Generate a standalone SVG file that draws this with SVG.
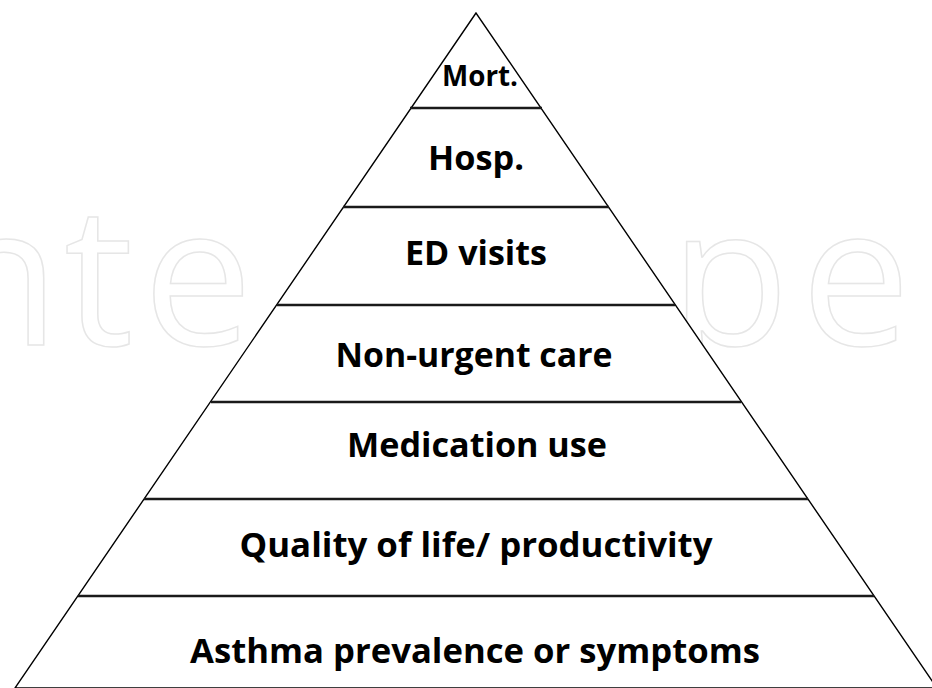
<svg xmlns="http://www.w3.org/2000/svg" width="932" height="688" viewBox="0 0 932 688">
  <style>
    .mark { font-family: "Open Sans", "DejaVu Sans", sans-serif; font-weight: 500; font-size: 195px; fill: none; stroke: #e6e6e6; stroke-width: 1.5; }
    .edge { fill: #ffffff; stroke: #000000; stroke-width: 1.4; stroke-linejoin: miter; }
    .tier { stroke: #1a1a1a; stroke-width: 2.6; }
    .label { font-family: "Open Sans", "Noto Sans", "DejaVu Sans", sans-serif; font-weight: 700; font-size: 34px; fill: #000000; text-anchor: middle; }
    .small { font-size: 28px; }
  </style>
  <rect x="0" y="0" width="932" height="688" fill="#ffffff"/>

  <!-- faint outlined background lettering, visible on both sides of the pyramid -->
  <g id="backdrop-letters">
    <text class="mark" x="-60" y="345">n</text>
    <text class="mark" x="64" y="345">t</text>
    <text class="mark" x="143" y="345">e</text>
    <text class="mark" x="670" y="345">p</text>
    <text class="mark" x="801" y="345">e</text>
  </g>

  <!-- pyramid outline -->
  <polygon id="pyramid" class="edge" points="476,13 15,688 937,688"/>

  <!-- tier dividers -->
  <g id="dividers">
    <line class="tier" x1="410" y1="108" x2="542" y2="108"/>
    <line class="tier" x1="343" y1="207" x2="609" y2="207"/>
    <line class="tier" x1="277" y1="305" x2="675" y2="305"/>
    <line class="tier" x1="211" y1="402" x2="741" y2="402"/>
    <line class="tier" x1="144" y1="499" x2="808" y2="499"/>
    <line class="tier" x1="78" y1="596" x2="874" y2="596"/>
  </g>

  <!-- tier labels -->
  <g id="tier-mort"><text class="label small" x="480" y="86" textLength="76" lengthAdjust="spacingAndGlyphs">Mort.</text></g>
  <g id="tier-hosp"><text class="label" x="476" y="170" textLength="96" lengthAdjust="spacingAndGlyphs">Hosp.</text></g>
  <g id="tier-ed"><text class="label" x="476" y="265" textLength="142" lengthAdjust="spacingAndGlyphs">ED visits</text></g>
  <g id="tier-nonurgent"><text class="label" x="474" y="367" textLength="277" lengthAdjust="spacingAndGlyphs">Non-urgent care</text></g>
  <g id="tier-medication"><text class="label" x="477" y="457" textLength="260" lengthAdjust="spacingAndGlyphs">Medication use</text></g>
  <g id="tier-quality"><text class="label" x="476" y="557" textLength="473" lengthAdjust="spacingAndGlyphs">Quality of life/ productivity</text></g>
  <g id="tier-asthma"><text class="label" x="475" y="663" textLength="570" lengthAdjust="spacingAndGlyphs">Asthma prevalence or symptoms</text></g>
</svg>
